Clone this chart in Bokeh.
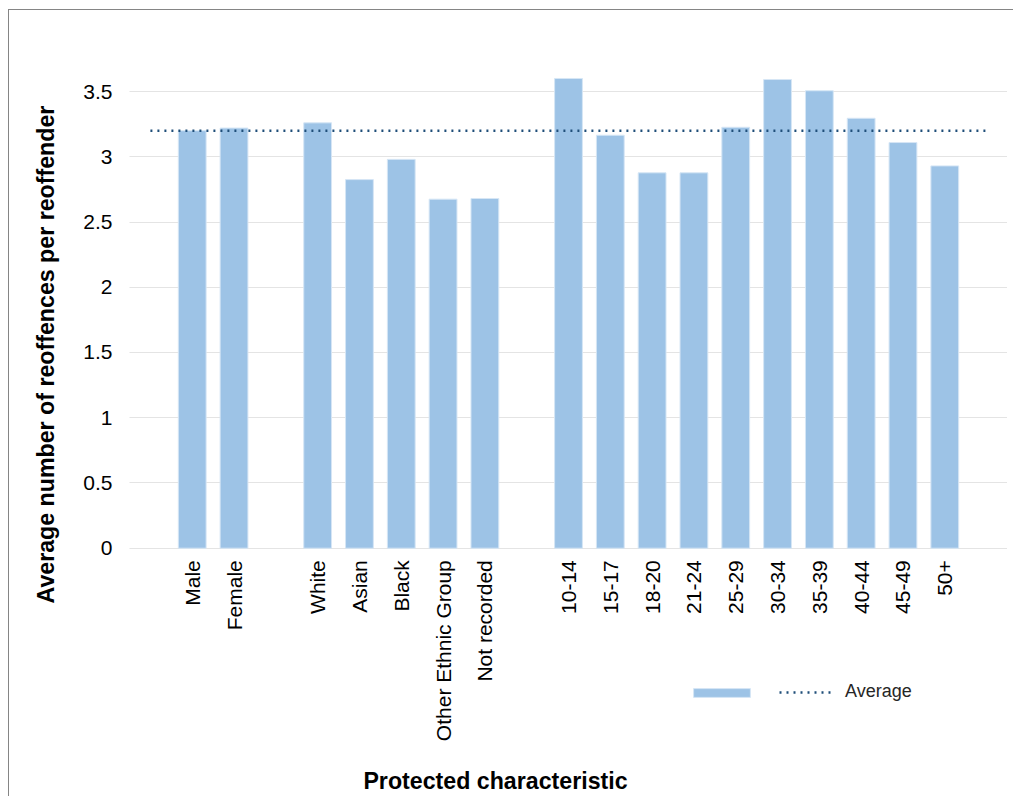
from math import pi
from bokeh.plotting import figure
from bokeh.models import (FactorRange, Range1d, FixedTicker, NumeralTickFormatter, Title,
                          Legend, LegendItem, ColumnDataSource, Label)
from bokeh.embed import file_html
from bokeh.resources import INLINE

# ---- data ----
gender = ["Male", "Female"]
gender_values = [3.20, 3.22]
ethnicity = ["White", "Asian", "Black", "Other Ethnic Group", "Not recorded"]
ethnicity_values = [3.26, 2.825, 2.98, 2.675, 2.68]
age = ["10-14", "15-17", "18-20", "21-24", "25-29", "30-34", "35-39", "40-44", "45-49", "50+"]
age_values = [3.60, 3.165, 2.877, 2.877, 3.226, 3.592, 3.506, 3.295, 3.109, 2.93]
average_value = 3.2
y_ticks = [0, 0.5, 1, 1.5, 2, 2.5, 3, 3.5]

gaps = [" ", "  ", "   ", "    "]
factors = [gaps[0]] + gender + [gaps[1]] + ethnicity + [gaps[2]] + age + [gaps[3]]
bar_cats = gender + ethnicity + age
bar_vals = gender_values + ethnicity_values + age_values

FONT = "Liberation Sans"

# frame spans from the plot top down to the bottom of the chart; the value
# axis covers 0..3.5 and the category axis is drawn at y = 0
p = figure(width=1013, height=796,
           x_range=FactorRange(factors=factors, range_padding=0),
           y_range=Range1d(-1.903, 3.983),
           output_backend="svg", toolbar_location=None,
           min_border_left=129, min_border_right=6, min_border_top=28, min_border_bottom=0,
           outline_line_color=None, background_fill_color="white",
           border_fill_color=None, border_fill_alpha=0)
p.styles = {
    "background": ("linear-gradient(#858585, #858585) 8px 9px / 1px 100% no-repeat, "
                   "linear-gradient(#858585, #858585) 8px 9px / 100% 1px no-repeat, #ffffff")
}

bar_src = ColumnDataSource(dict(cat=bar_cats, val=bar_vals))
bars = p.vbar(x="cat", top="val", width=0.665, source=bar_src,
              fill_color="#9dc3e6", line_color="#d6e6f5", line_width=1)

avg_src = ColumnDataSource(dict(cat=factors, val=[average_value] * len(factors)))
avg_line = p.line(x="cat", y="val", source=avg_src, line_color="#1f4e79",
                  line_width=2.5, line_dash="2 5")

# axes
p.yaxis.ticker = FixedTicker(ticks=y_ticks)
p.yaxis.formatter = NumeralTickFormatter(format="0.[0]")
for ax in (p.xaxis[0], p.yaxis[0]):
    ax.axis_line_color = None
    ax.major_tick_line_color = None
    ax.minor_tick_line_color = None
    ax.major_tick_out = 0
    ax.major_tick_in = 0
    ax.major_label_text_font = FONT
    ax.major_label_text_font_size = "21px"
    ax.major_label_text_color = "black"
p.yaxis.major_label_standoff = 17
p.xaxis.major_label_standoff = 12
p.xaxis.major_label_orientation = pi / 2
p.xaxis.fixed_location = 0

p.xgrid.grid_line_color = None
p.ygrid.grid_line_color = "#c8c8c8"
p.ygrid.grid_line_dash = "1 1"
p.ygrid.grid_line_width = 1

# y axis title (left panel)
p.add_layout(Title(text="Average number of reoffences per reoffender",
                   align="left", offset=193, vertical_align="middle", standoff=42,
                   text_font=FONT, text_font_size="23.2px", text_font_style="bold",
                   text_color="black"), "left")

# x axis title
p.add_layout(Label(x=366, y=15.5, x_units="screen", y_units="screen",
                   text="Protected characteristic", text_align="center",
                   text_baseline="alphabetic", text_font=FONT, text_font_size="23.2px",
                   text_font_style="bold", text_color="black"))

# legend: bar swatch (unnamed series) and the dotted average line
bar_legend = Legend(items=[LegendItem(label="", renderers=[bars])],
                    location=(557, 98), orientation="horizontal",
                    glyph_width=71, glyph_height=11, label_width=0, label_height=0,
                    label_standoff=0, padding=0, margin=0,
                    border_line_color=None, background_fill_alpha=0,
                    label_text_font=FONT, label_text_font_size="1px")
p.add_layout(bar_legend)

line_legend = Legend(items=[LegendItem(label="Average", renderers=[avg_line])],
                     location=(650, 94), orientation="horizontal",
                     glyph_width=56, glyph_height=10, label_width=0, label_height=0,
                     label_standoff=10, padding=0, margin=0,
                     border_line_color=None, background_fill_alpha=0,
                     label_text_font=FONT, label_text_font_size="18px",
                     label_text_color="#262626")
p.add_layout(line_legend)

open("out.html", "w").write(file_html(p, INLINE))
